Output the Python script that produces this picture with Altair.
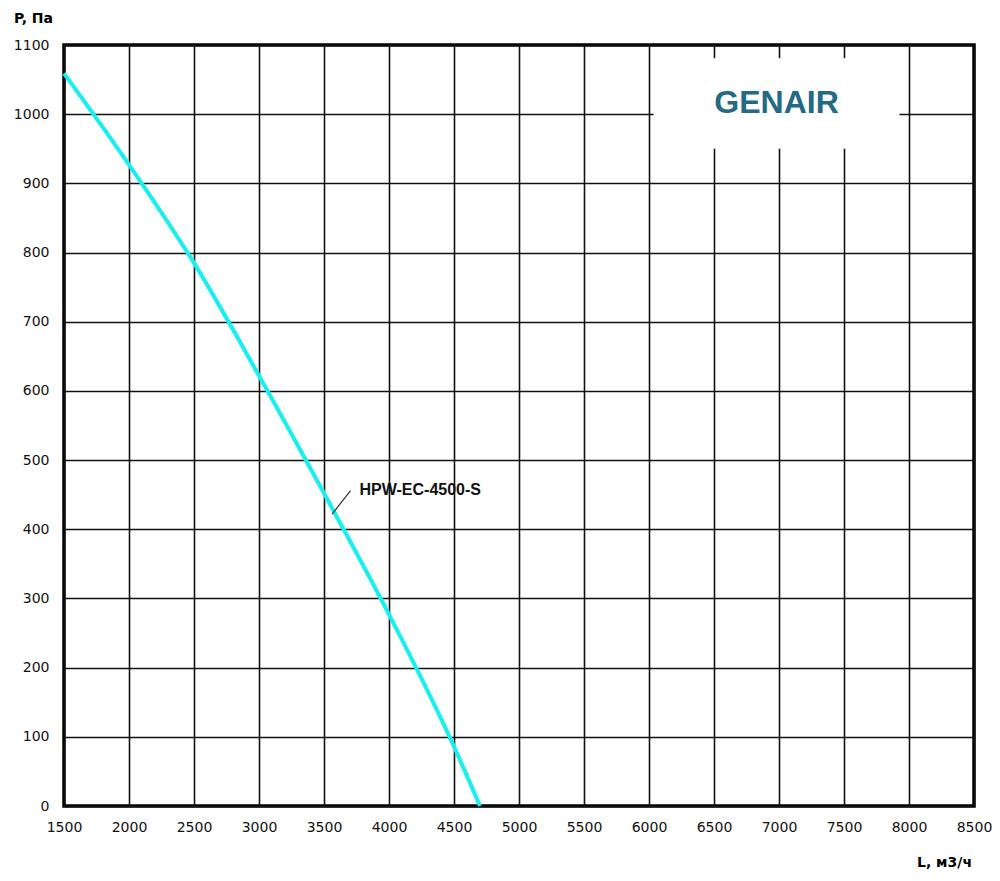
import altair as alt
import pandas as pd

# Fan curve HPW-EC-4500-S
flow = [1500, 2000, 2500, 3000, 3500, 4000, 4500, 4700]
pressure = [1059, 927, 785, 622, 452, 277, 86, 0]

x_ticks = list(range(1500, 8501, 500))
y_ticks = list(range(0, 1101, 100))

curve_name = "HPW-EC-4500-S"
label_pos = [3773, 457]
leader = [3563, 422, 3704, 456]
brand = "GENAIR"
brand_pos = [6981, 1016]
brand_box = [6035, 950, 7927, 1081]

curve_df = pd.DataFrame({"L": flow, "P": pressure})

xs = alt.Scale(domain=[1500, 8500], nice=False, zero=False)
ys = alt.Scale(domain=[0, 1100], nice=False, zero=False)

x_axis = alt.Axis(values=x_ticks, format="d", title="L, м3/ч", titleAngle=0, titleX=880, titleY=56,
                  titleAlign="center", titleBaseline="middle", titleFont="DejaVu Sans",
                  titleFontSize=14, titleFontWeight="bold", titleColor="#000",
                  labelFont="DejaVu Sans", labelFontSize=14, labelColor="#111", labelPadding=14,
                  domain=False, ticks=False, grid=True, gridColor="#111", gridWidth=1.6,
                  labelFlush=False, labelOverlap=False)
y_axis = alt.Axis(values=y_ticks, format="d", title="P, Па", titleAngle=0, titleX=-31, titleY=-27,
                  titleAlign="center", titleBaseline="middle", titleFont="DejaVu Sans",
                  titleFontSize=14, titleFontWeight="bold", titleColor="#000",
                  labelFont="DejaVu Sans", labelFontSize=14, labelColor="#111", labelPadding=15,
                  domain=False, ticks=False, grid=True, gridColor="#111", gridWidth=1.6,
                  labelFlush=False, labelOverlap=False)

line = alt.Chart(curve_df).mark_line(color="#16f0f0", strokeWidth=4, interpolate="monotone").encode(
    x=alt.X("L:Q", scale=xs, axis=x_axis),
    y=alt.Y("P:Q", scale=ys, axis=y_axis),
)

box_df = pd.DataFrame({"x": [brand_box[0]], "y": [brand_box[1]], "x2": [brand_box[2]], "y2": [brand_box[3]]})
box = alt.Chart(box_df).mark_rect(fill="white").encode(
    x=alt.X("x:Q", scale=xs), x2="x2:Q", y=alt.Y("y:Q", scale=ys), y2="y2:Q")

brand_df = pd.DataFrame({"x": [brand_pos[0]], "y": [brand_pos[1]], "t": [brand]})
brand_text = alt.Chart(brand_df).mark_text(font="Liberation Sans", fontSize=32, fontWeight="bold",
                                           color="#236a86", align="center", baseline="middle").encode(
    x=alt.X("x:Q", scale=xs), y=alt.Y("y:Q", scale=ys), text="t:N")

leader_df = pd.DataFrame({"x": [leader[0]], "y": [leader[1]], "x2": [leader[2]], "y2": [leader[3]]})
leader_rule = alt.Chart(leader_df).mark_rule(color="#333", strokeWidth=1.2).encode(
    x=alt.X("x:Q", scale=xs), x2="x2:Q", y=alt.Y("y:Q", scale=ys), y2="y2:Q")

lab_df = pd.DataFrame({"x": [label_pos[0]], "y": [label_pos[1]], "t": [curve_name]})
lab_text = alt.Chart(lab_df).mark_text(font="Liberation Sans", fontSize=16, fontWeight="bold",
                                       color="#111", align="left", baseline="middle").encode(
    x=alt.X("x:Q", scale=xs), y=alt.Y("y:Q", scale=ys), text="t:N")

chart = alt.layer(line, box, brand_text, leader_rule, lab_text).properties(
    width=910, height=761,
    autosize=alt.AutoSizeParams(type="none"),
    padding={"left": 56, "top": 37, "right": 18, "bottom": 72},
    background="white",
).configure_view(stroke="#000", strokeWidth=3.5)

chart.save("out.html", embed_options={"renderer": "svg", "actions": False})
